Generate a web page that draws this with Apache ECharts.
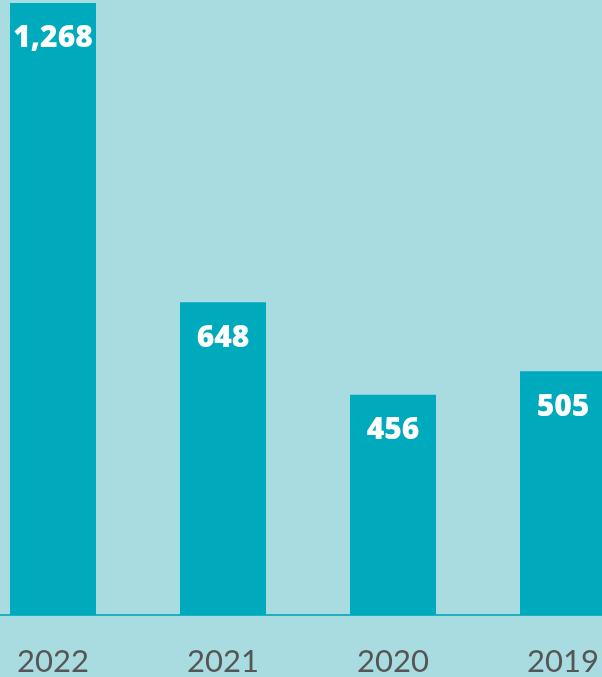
<!DOCTYPE html>
<html>
<head>
<meta charset="utf-8">
<script src="https://cdn.jsdelivr.net/npm/echarts@6/dist/echarts.min.js"></script>
<style>
  html, body { margin: 0; padding: 0; background: #a9dce0; }
  #main { width: 602px; height: 677px; }
</style>
</head>
<body>
<div id="main"></div>
<script>
// 年份和数值
var years = ['2022', '2021', '2020', '2019'];
var values = [1268, 648, 456, 505];

var myChart = echarts.init(document.getElementById('main'));

var option = {
  backgroundColor: '#a9dce0',
  grid: {
    left: -32,
    width: 680,
    top: 0,
    bottom: 62,
    outerBoundsMode: 'none',
    containLabel: false
  },
  xAxis: {
    type: 'category',
    data: years,
    axisLine: { show: true, lineStyle: { color: '#1fb1c2', width: 2 } },
    axisTick: { show: false },
    axisLabel: {
      color: '#555555',
      fontSize: 31,
      fontFamily: 'Lato',
      margin: 31
    }
  },
  yAxis: {
    type: 'value',
    min: 0,
    max: 1274,
    show: false,
    splitLine: { show: false }
  },
  series: [
    {
      type: 'bar',
      data: values,
      barWidth: 86,
      itemStyle: { color: '#00aabd' },
      label: {
        show: true,
        position: 'insideTop',
        distance: 21,
        color: '#ffffff',
        fontSize: 30,
        fontWeight: 800,
        fontFamily: 'Open Sans',
        formatter: function (p) {
          return p.value.toLocaleString('en-US');
        }
      }
    }
  ]
};

option && myChart.setOption(option);
</script>
</body>
</html>
